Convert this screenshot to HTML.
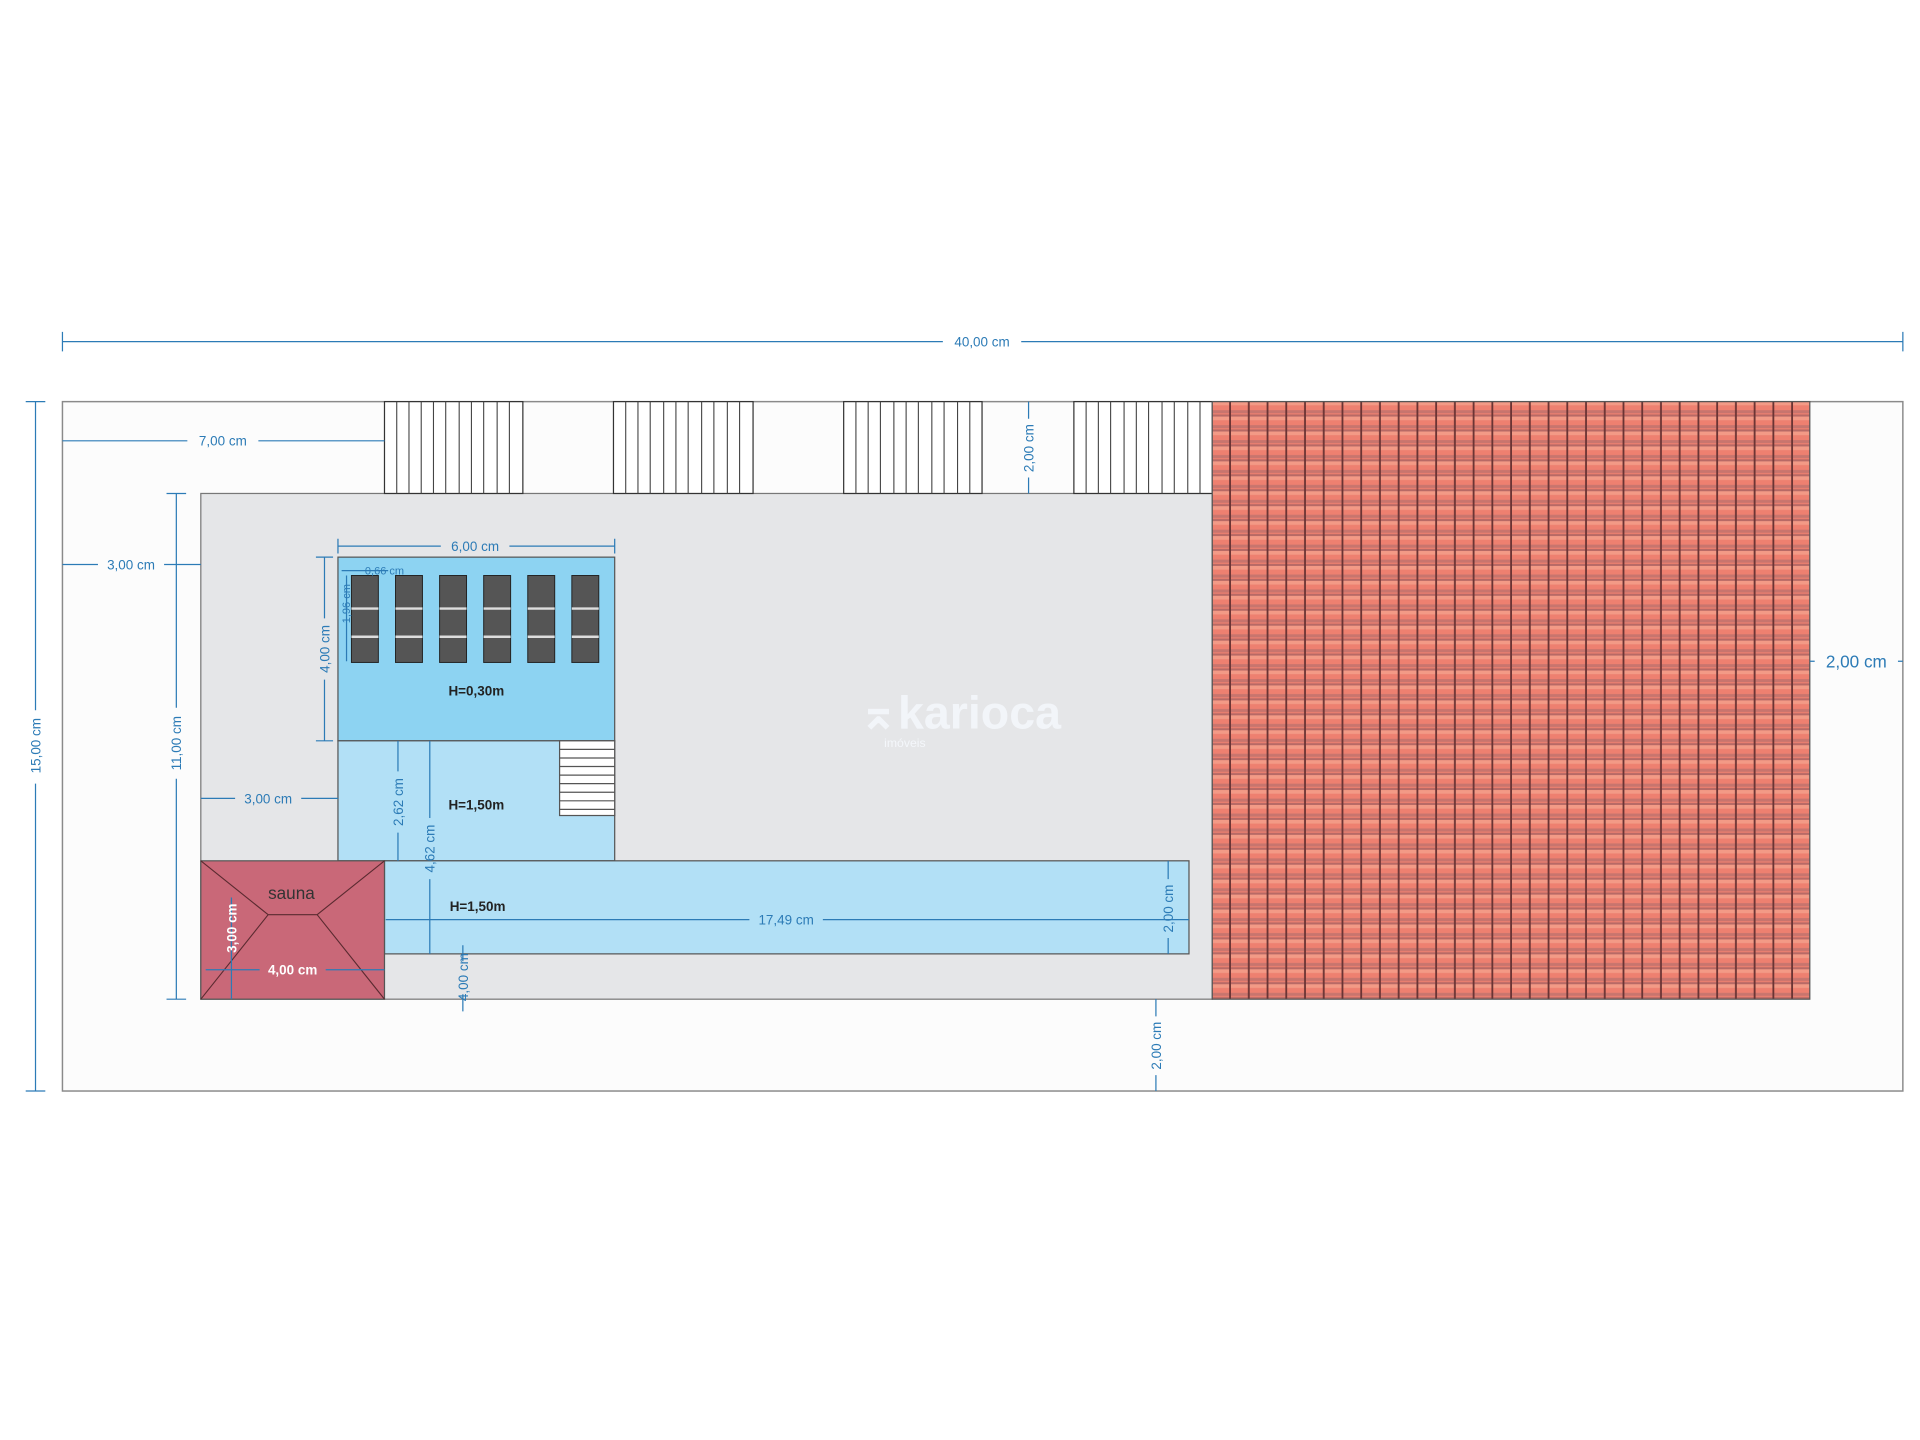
<!DOCTYPE html>
<html><head><meta charset="utf-8"><style>
html,body{margin:0;padding:0;background:#fff;}
svg{display:block;}
text{font-family:"Liberation Sans",sans-serif;}
</style></head><body>
<svg width="1920" height="1440" viewBox="0 0 1568 1176" xmlns="http://www.w3.org/2000/svg">
<defs>
<pattern id="tile" x="990" y="328" width="15.3" height="12.2" patternUnits="userSpaceOnUse">
<rect width="15.3" height="12.2" fill="#ee8070"/>
<rect y="0" width="15.3" height="3" fill="#f39a86"/>
<rect y="7" width="15.3" height="2.5" fill="#c8756e"/>
<rect y="10.5" width="15.3" height="1.7" fill="#b86a66"/>
<rect x="13.8" width="1.5" height="12.2" fill="#6b3434"/>
</pattern>
</defs>
<rect x="51" y="328" width="1503" height="563" fill="#fcfcfc" stroke="#8a8a8a" stroke-width="1.2"/>
<rect x="164" y="403" width="826" height="413" fill="#e5e6e8" stroke="#777" stroke-width="1"/>
<g stroke="#333" stroke-width="1" fill="#fff">
<rect x="314" y="328" width="113" height="75"/>
<rect x="501" y="328" width="114" height="75"/>
<rect x="689" y="328" width="113" height="75"/>
<rect x="877" y="328" width="113" height="75"/>
</g>
<g stroke="#444" stroke-width="0.9">
<path d="M324 328v75M334 328v75M344 328v75M354 328v75M364 328v75M375 328v75M385 328v75M395 328v75M406 328v75M416 328v75"/>
<path d="M511 328v75M521 328v75M531 328v75M542 328v75M552 328v75M562 328v75M573 328v75M583 328v75M594 328v75M604 328v75"/>
<path d="M699 328v75M709 328v75M719 328v75M730 328v75M740 328v75M750 328v75M761 328v75M771 328v75M782 328v75M792 328v75"/>
<path d="M887 328v75M897 328v75M907 328v75M918 328v75M928 328v75M938 328v75M949 328v75M959 328v75M970 328v75M980 328v75"/>
</g>
<rect x="990" y="328" width="488" height="488" fill="url(#tile)" stroke="#555" stroke-width="1"/>
<rect x="276" y="455" width="226" height="150" fill="#8dd3f2" stroke="#555" stroke-width="1"/>
<rect x="276" y="605" width="226" height="98" fill="#b2e0f6" stroke="#555" stroke-width="1"/>
<rect x="314" y="703" width="657" height="76" fill="#b2e0f6" stroke="#555" stroke-width="1"/>
<rect x="457" y="605" width="45" height="61" fill="#fff" stroke="#555"/>
<g stroke="#555"><path d="M457 612h45M457 619h45M457 626h45M457 633h45M457 640h45M457 647h45M457 654h45M457 661h45"/></g>
<g>
<g fill="#555" stroke="#222" stroke-width="0.8">
<rect x="287" y="470" width="22" height="71"/><rect x="323" y="470" width="22" height="71"/>
<rect x="359" y="470" width="22" height="71"/><rect x="395" y="470" width="22" height="71"/>
<rect x="431" y="470" width="22" height="71"/><rect x="467" y="470" width="22" height="71"/>
</g>
<g stroke="#ddd" stroke-width="2">
<path d="M287 497h22M323 497h22M359 497h22M395 497h22M431 497h22M467 497h22"/>
<path d="M287 520h22M323 520h22M359 520h22M395 520h22M431 520h22M467 520h22"/>
</g>
</g>
<rect x="164" y="703" width="150" height="113" fill="#c96878" stroke="#555"/>
<g stroke="#5a2a30" stroke-width="0.9" fill="none"><path d="M164 703L219 747H259L314 703M164 816L219 747M259 747L314 816"/></g>
<text x="238" y="734" font-size="14" fill="#333" text-anchor="middle">sauna</text>
<text x="784" y="595" font-size="38" font-weight="bold" fill="#f4f7fb" text-anchor="middle" opacity="0.9">⌅karioca</text>
<text x="739" y="610" font-size="10" fill="#f4f7fb" text-anchor="middle">imóveis</text>
<g stroke="#2c7bb6" stroke-width="1" fill="none">
<path d="M51 279H770M834 279H1554M51 271v16M1554 271v16"/>
<path d="M29 328V580M29 640V891M21 328h16M21 891h16"/>
<path d="M51 360H153M211 360H314"/>
<path d="M51 461H80M134 461H164"/>
<path d="M144 403V578M144 636V816M136 403h16M136 816h16"/>
<path d="M164 652H192M246 652H276"/>
<path d="M276 446H360M416 446H502M276 440v12M502 440v12"/>
<path d="M265 455V505M265 555V605M258 455h14M258 605h14"/>
<path d="M325 605V630M325 680V703"/>
<path d="M351 605V668M351 718V779"/>
<path d="M315 751H612M672 751H971"/>
<path d="M954 703V718M954 766V779"/>
<path d="M378 772V785M378 812V826"/>
<path d="M840 328V342M840 390V403"/>
<path d="M944 816V830M944 878V891"/>
<path d="M1478 540h4M1550 540h4"/>
<path d="M189 733V816M168 792H212M266 792H314"/>
<path d="M279 466H317M283 470V540"/>
</g>
<g fill="#2c7bb6" font-size="11">
<text x="802" y="283" text-anchor="middle">40,00 cm</text>
<text x="182" y="364" text-anchor="middle">7,00 cm</text>
<text x="107" y="465" text-anchor="middle">3,00 cm</text>
<text x="219" y="656" text-anchor="middle">3,00 cm</text>
<text x="388" y="450" text-anchor="middle">6,00 cm</text>
<text x="642" y="755" text-anchor="middle">17,49 cm</text>
<text x="1516" y="545" text-anchor="middle" font-size="14">2,00 cm</text>
<text x="298" y="469" font-size="9">0,66 cm</text>
<text transform="translate(33 609) rotate(-90)" text-anchor="middle">15,00 cm</text>
<text transform="translate(148 607) rotate(-90)" text-anchor="middle">11,00 cm</text>
<text transform="translate(269 530) rotate(-90)" text-anchor="middle">4,00 cm</text>
<text transform="translate(329 655) rotate(-90)" text-anchor="middle">2,62 cm</text>
<text transform="translate(355 693) rotate(-90)" text-anchor="middle">4,62 cm</text>
<text transform="translate(958 742) rotate(-90)" text-anchor="middle">2,00 cm</text>
<text transform="translate(382 798) rotate(-90)" text-anchor="middle">4,00 cm</text>
<text transform="translate(844 366) rotate(-90)" text-anchor="middle">2,00 cm</text>
<text transform="translate(948 854) rotate(-90)" text-anchor="middle">2,00 cm</text>
<text transform="translate(286 493) rotate(-90)" text-anchor="middle" font-size="9">1,96 cm</text>
</g>
<g fill="#222" font-size="11" font-weight="bold">
<text x="389" y="568" text-anchor="middle">H=0,30m</text>
<text x="389" y="661" text-anchor="middle">H=1,50m</text>
<text x="390" y="744" text-anchor="middle">H=1,50m</text>
</g>
<g fill="#fff" font-size="11" font-weight="bold">
<text x="239" y="796" text-anchor="middle">4,00 cm</text>
<text transform="translate(193 758) rotate(-90)" text-anchor="middle">3,00 cm</text>
</g>
</svg>
</body></html>
